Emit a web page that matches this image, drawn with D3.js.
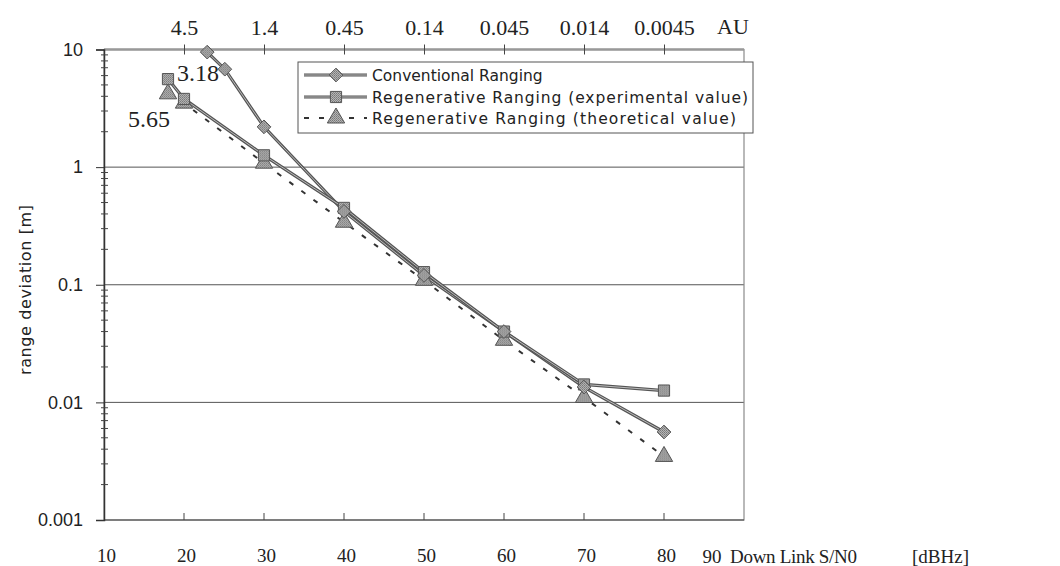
<!DOCTYPE html>
<html><head><meta charset="utf-8">
<script src="https://cdn.jsdelivr.net/npm/d3@7"></script>
<style>
html,body{margin:0;padding:0;background:#fff;}
svg{display:block;}
</style></head>
<body>
<svg id="chart" width="1060" height="566"></svg>
<script>
// ---- data ----
const seriesNames = ["Conventional Ranging", "Regenerative Ranging (experimental value)", "Regenerative Ranging (theoretical value)"];
const convX = [22.9, 25.1, 30, 40, 50, 60, 70, 80];
const convY = [9.5, 6.8, 2.2, 0.42, 0.12, 0.040, 0.0135, 0.0056];
const expX = [18, 20, 30, 40, 50, 60, 70, 80];
const expY = [5.6, 3.8, 1.26, 0.45, 0.128, 0.040, 0.0142, 0.0126];
const theoX = [18, 20, 30, 40, 50, 60, 70, 80];
const theoY = [4.2, 3.5, 1.08, 0.34, 0.109, 0.0337, 0.011, 0.00347];
const xTicks = [10, 20, 30, 40, 50, 60, 70, 80];
const yTicks = [0.001, 0.01, 0.1, 1, 10];
const yTickLabels = ["0.001", "0.01", "0.1", "1", "10"];
const auTicks = [20, 30, 40, 50, 60, 70, 80];
const auLabels = ["4.5", "1.4", "0.45", "0.14", "0.045", "0.014", "0.0045"];
const annotations = [{x: 18, y: 5.6, text: "3.18"}, {x: 18, y: 4.2, text: "5.65"}];

const svg = d3.select("#chart");
const x = d3.scaleLinear().domain([10, 90]).range([104, 744]);
const y = d3.scaleLog().domain([0.001, 10]).range([520, 49.5]);

const serif = "'Liberation Serif','Times New Roman',serif";
const sans = "'Liberation Sans',Arial,sans-serif";
const gothic = "'DejaVu Sans',sans-serif";

// texture pattern for markers
const defs = svg.append("defs");
const pat = defs.append("pattern").attr("id", "hatch").attr("width", 2).attr("height", 2).attr("patternUnits", "userSpaceOnUse");
pat.append("rect").attr("width", 2).attr("height", 2).attr("fill", "#b4b4b4");
pat.append("rect").attr("width", 1).attr("height", 1).attr("fill", "#777");
pat.append("rect").attr("x", 1).attr("y", 1).attr("width", 1).attr("height", 1).attr("fill", "#888");

// gridlines
svg.append("g").selectAll("line").data([0.01, 0.1, 1]).join("line")
  .attr("x1", x(10)).attr("x2", x(90)).attr("y1", d => y(d)).attr("y2", d => y(d))
  .attr("stroke", "#555").attr("stroke-width", 1);

// plot border
svg.append("rect").attr("x", x(10)).attr("y", y(10)).attr("width", x(90) - x(10)).attr("height", y(0.001) - y(10))
  .attr("fill", "none").attr("stroke", "#8a8a8a").attr("stroke-width", 1.2);
svg.append("line").attr("x1", x(10)).attr("x2", x(90)).attr("y1", y(10)).attr("y2", y(10))
  .attr("stroke", "#999").attr("stroke-width", 2.5);
svg.append("line").attr("x1", x(10)).attr("x2", x(90)).attr("y1", y(0.001)).attr("y2", y(0.001))
  .attr("stroke", "#444").attr("stroke-width", 1.2);

// left axis
const yAxis = d3.axisLeft(y).tickValues(yTicks).tickFormat((d, i) => yTickLabels[i]).tickSize(8).tickPadding(13);
const gy = svg.append("g").attr("transform", `translate(${x(10)},0)`).call(yAxis);
gy.select(".domain").attr("stroke", "#333").attr("stroke-width", 1.5);
gy.selectAll(".tick line").attr("stroke", "#333");
gy.selectAll("text").attr("font-family", sans).attr("font-size", 18).attr("fill", "#222");
// minor ticks
const minor = [];
for (let e = -3; e < 1; e++) for (let m = 2; m <= 9; m++) minor.push(m * Math.pow(10, e));
svg.append("g").selectAll("line").data(minor).join("line")
  .attr("x1", x(10) - 3).attr("x2", x(10) + 4).attr("y1", d => y(d)).attr("y2", d => y(d))
  .attr("stroke", "#444").attr("stroke-width", 1);

// bottom axis
const xAxis = d3.axisBottom(x).tickValues(xTicks).tickSize(0).tickPadding(29);
const gx = svg.append("g").attr("transform", `translate(0,${y(0.001)})`).call(xAxis);
gx.select(".domain").remove();
gx.selectAll("text").attr("font-family", serif).attr("font-size", 19).attr("fill", "#222").attr("dx", 2);
svg.append("g").selectAll("line").data(xTicks.slice(1)).join("line")
  .attr("x1", d => x(d)).attr("x2", d => x(d)).attr("y1", y(0.001) - 7).attr("y2", y(0.001))
  .attr("stroke", "#444");
svg.append("text").attr("x", 712).attr("y", 563).attr("text-anchor", "middle")
  .attr("font-family", serif).attr("font-size", 19).attr("fill", "#222").text("90");
svg.append("text").attr("x", 730).attr("y", 563)
  .attr("font-family", serif).attr("font-size", 19).attr("fill", "#222").attr("textLength", 127).text("Down Link S/N0");
svg.append("text").attr("x", 912).attr("y", 563)
  .attr("font-family", serif).attr("font-size", 19).attr("fill", "#222").text("[dBHz]");

// top axis (AU)
const auAxis = d3.axisTop(x).tickValues(auTicks).tickFormat((d, i) => auLabels[i]).tickSize(5).tickPadding(10);
const gt = svg.append("g").attr("transform", `translate(0,${y(10)})`).call(auAxis);
gt.select(".domain").remove();
gt.selectAll(".tick line").attr("stroke", "#444").attr("y2", -5).attr("y1", 5);
gt.selectAll("text").attr("font-family", serif).attr("font-size", 22).attr("fill", "#222");
svg.append("text").attr("x", 733).attr("y", 34).attr("text-anchor", "middle")
  .attr("font-family", serif).attr("font-size", 22).attr("fill", "#222").text("AU");

// y title
svg.append("text").attr("transform", `translate(31,290) rotate(-90)`).attr("text-anchor", "middle")
  .attr("font-family", gothic).attr("font-size", 16).attr("fill", "#222")
  .attr("textLength", 170).attr("lengthAdjust", "spacing").text("range deviation [m]");

// series
const line = d3.line().x(d => x(d[0])).y(d => y(d[1]));
const conv = convX.map((v, i) => [v, convY[i]]);
const exp = expX.map((v, i) => [v, expY[i]]);
const theo = theoX.map((v, i) => [v, theoY[i]]);

svg.append("path").datum(theo).attr("d", line).attr("fill", "none")
  .attr("stroke", "#333").attr("stroke-width", 2).attr("stroke-dasharray", "5,10");
[conv, exp].forEach(s => {
  svg.append("path").datum(s).attr("d", line).attr("fill", "none").attr("stroke", "#555").attr("stroke-width", 3.2);
  svg.append("path").datum(s).attr("d", line).attr("fill", "none").attr("stroke", "#bbb").attr("stroke-width", 1);
});

const markerFill = "url(#hatch)", markerStroke = "#555";
const sym = {
  diamond: d3.symbol().type(d3.symbolDiamond2).size(120),
  square: d3.symbol().type(d3.symbolSquare).size(125),
  triangle: d3.symbol().type(d3.symbolTriangle).size(130)
};
function drawMarkers(data, gen) {
  svg.append("g").selectAll("path").data(data).join("path")
    .attr("d", gen)
    .attr("transform", d => `translate(${x(d[0])},${y(d[1])})`)
    .attr("fill", markerFill).attr("stroke", markerStroke).attr("stroke-width", 1);
}
drawMarkers(theo, sym.triangle);
drawMarkers(exp, sym.square);
drawMarkers(conv, sym.diamond);

// annotations
svg.append("text").attr("x", x(annotations[0].x) + 9).attr("y", 81)
  .attr("font-family", serif).attr("font-size", 24).attr("fill", "#222").text(annotations[0].text);
svg.append("text").attr("x", x(annotations[1].x) - 40).attr("y", 127)
  .attr("font-family", serif).attr("font-size", 24).attr("fill", "#222").text(annotations[1].text);

// legend
const lg = svg.append("g");
lg.append("rect").attr("x", 298).attr("y", 62).attr("width", 455).attr("height", 71)
  .attr("fill", "#fff").attr("stroke", "#555").attr("stroke-width", 1);
const rowsY = [75, 97, 118];
const rowLens = [null, 376, 364];
const gens = [sym.diamond, sym.square, sym.triangle];
seriesNames.forEach((name, i) => {
  const ly = rowsY[i];
  if (i < 2) {
    lg.append("line").attr("x1", 304).attr("x2", 367).attr("y1", ly).attr("y2", ly).attr("stroke", "#555").attr("stroke-width", 3);
    lg.append("line").attr("x1", 304).attr("x2", 367).attr("y1", ly).attr("y2", ly).attr("stroke", "#bbb").attr("stroke-width", 1);
  } else {
    lg.append("line").attr("x1", 304).attr("x2", 367).attr("y1", ly).attr("y2", ly).attr("stroke", "#333").attr("stroke-width", 2).attr("stroke-dasharray", "5,10");
  }
  lg.append("path").attr("d", gens[i]).attr("transform", `translate(336,${ly})`)
    .attr("fill", markerFill).attr("stroke", markerStroke);
  const t = lg.append("text").attr("x", 372).attr("y", ly + 6).attr("font-family", gothic).attr("font-size", 15.5)
    .attr("fill", "#222").text(name);
  if (rowLens[i]) t.attr("textLength", rowLens[i]).attr("lengthAdjust", "spacing");
});
</script>
</body></html>
